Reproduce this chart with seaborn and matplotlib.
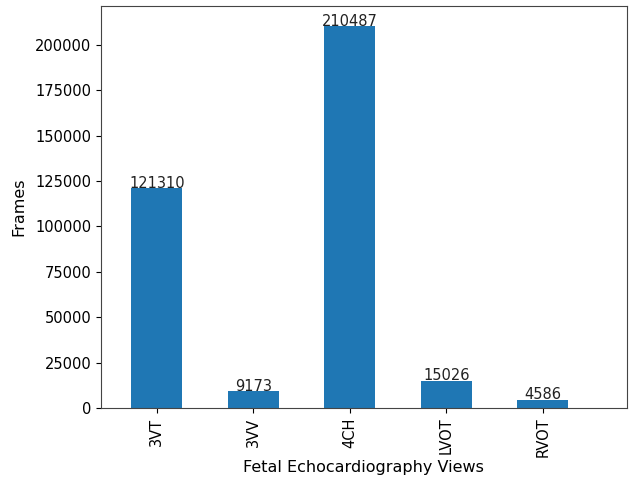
import matplotlib
matplotlib.use("Agg")
import matplotlib.pyplot as plt
import seaborn as sns
import pandas as pd

views = ["3VT", "3VV", "4CH", "LVOT", "RVOT"]
frames = [121310, 9173, 210487, 15026, 4586]

df = pd.DataFrame({"view": views, "frames": frames})

fig = plt.figure(figsize=(6.35, 4.95), dpi=100)
ax = fig.add_axes([0.159, 0.176, 0.828, 0.812])
sns.barplot(data=df, x="view", y="frames", color="#1f77b4", saturation=1,
            width=0.53, ax=ax)
for i, v in enumerate(frames):
    ax.annotate(str(v), (i, v), xytext=(0, -2), textcoords="offset points",
                ha="center", va="bottom", fontsize=10.5, color="#222222")
ax.set_xlim(-0.58, 4.87)
ax.set_ylim(0, 221500)
ax.set_yticks(range(0, 200001, 25000))
ax.tick_params(axis="x", labelrotation=90, labelsize=10.5)
ax.tick_params(axis="y", labelsize=10.5)
ax.set_xlabel("Fetal Echocardiography Views", fontsize=11.5, labelpad=2)
ax.set_ylabel("Frames", fontsize=11.5, labelpad=6)
for s in ax.spines.values():
    s.set_color("#444444")
fig.savefig("out.png", dpi=100)
